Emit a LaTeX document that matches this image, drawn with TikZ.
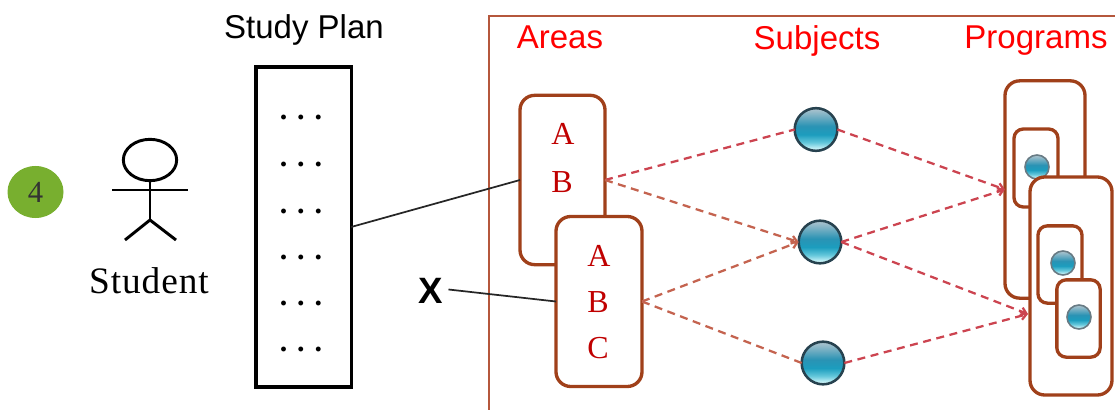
\documentclass[tikz,border=0pt]{standalone}
\usepackage{fontspec}
\setmainfont{Liberation Serif}
\newfontfamily\arialf{Liberation Sans}
\usetikzlibrary{arrows.meta,shapes.geometric}
\definecolor{brownb}{HTML}{A0401A}
\definecolor{framec}{HTML}{B5573C}
\definecolor{dashr}{HTML}{CC4450}
\definecolor{dashb}{HTML}{C4634F}
\definecolor{areat}{HTML}{C00000}
\definecolor{greenb}{HTML}{78AF2F}
\definecolor{ballline}{HTML}{27424F}
\definecolor{ballA}{HTML}{D0F6FA}
\definecolor{ballE}{HTML}{62C6DA}
\definecolor{ballB}{HTML}{1C9DBE}
\definecolor{ballC}{HTML}{2A93B4}
\definecolor{ballD}{HTML}{A4C0CC}
\pgfdeclareverticalshading{ballshade}{100bp}{color(0bp)=(ballA); color(27bp)=(ballA); color(35bp)=(ballE); color(44bp)=(ballB); color(54bp)=(ballC); color(73bp)=(ballD); color(100bp)=(ballD)}
\tikzset{
  box/.style={draw=brownb,line width=2.5pt,fill=white,rounded corners=#1,outer sep=0pt,inner sep=0pt},
  box/.default=11pt,
  ball/.style={circle,draw=ballline,line width=1.9pt,shading=ballshade,minimum size=#1,inner sep=0pt,outer sep=0pt},
  sball/.style={circle,draw=ballline!70!white,line width=1.2pt,shading=ballshade,minimum size=#1,inner sep=0pt,outer sep=0pt},
  dr/.style={draw=dashr,line width=1.7pt,dash pattern=on 6pt off 4.2pt},
  db/.style={draw=dashb,line width=1.7pt,dash pattern=on 6pt off 4.2pt},
  tip/.style={-{Straight Barb[length=4pt,width=6pt]}},
  head/.style={font=\arialf\fontsize{24.75pt}{28pt}\selectfont,text=red,anchor=base,inner sep=0pt},
  areaText/.style={font=\fontsize{24pt}{28pt}\selectfont,text=areat,anchor=base,inner sep=0pt},
  dotsText/.style={font=\bfseries\fontsize{22.5pt}{26pt}\selectfont,text=black,anchor=base,inner sep=0pt},
  stick/.style={draw=black,line width=2.2pt},
  thin line/.style={draw=black!85,line width=1.3pt}
}
\begin{document}
\begin{tikzpicture}[x=0.75pt,y=-0.75pt]
\useasboundingbox (0,0) rectangle (1115,410);
% frame
\coordinate (ftr) at (1115,16);
\coordinate (ftl) at (489,16);
\coordinate (fbl) at (489,410);
\draw[draw=framec,line width=1.2pt] (ftr) -- (ftl) -- (fbl);
% left part
\node[ellipse,fill=greenb,minimum width=42pt,minimum height=39pt,inner sep=0pt,font=\fontsize{23pt}{26pt}\selectfont,text=black!80] (num) at (35.5,192) {4};
\node[ellipse,draw=black,line width=2.2pt,minimum width=40pt,minimum height=31pt,inner sep=0pt,outer sep=0pt] (hd) at (150,160) {};
\coordinate (armL) at (112,190);
\coordinate (armR) at (188,190);
\coordinate (hip) at (150,220);
\coordinate (legL) at (125,240);
\coordinate (legR) at (176,240);
\draw[stick] (armL) -- (armR);
\draw[stick] (hd.south) -- (hip);
\draw[stick] (legL) -- (hip) -- (legR);
\node[font=\addfontfeature{LetterSpace=2.5}\fontsize{28pt}{30pt}\selectfont,anchor=base,inner sep=0pt] (stu) at (149,293) {Student};
\node[font=\arialf\fontsize{24.75pt}{28pt}\selectfont,anchor=base,inner sep=0pt] (sp) at (304,39) {Study Plan};
\node[draw=black,line width=2.5pt,fill=white,minimum width=71.5pt,minimum height=240pt,inner sep=0pt,outer sep=0pt] (plan) at (303.5,227) {};
\foreach \i/\yy in {1/120,2/166.5,3/213,4/259,5/305,6/351}
  \node[dotsText] (dots\i) at (301,\yy) {. . .};
\node[font=\arialf\bfseries\fontsize{27.5pt}{30pt}\selectfont,inner sep=0pt] (x) at (431,290.5) {X};
% headings
\node[head] (hA) at (560,49) {Areas};
\node[head] (hS) at (817,50) {Subjects};
\node[head] (hP) at (1036,49) {Programs};
% areas
\node[box,minimum width=63.75pt,minimum height=127pt] (a1) at (562.5,180) {};
\node[areaText] (a1A) at (563,145) {A};
\node[areaText] (a1B) at (562,192) {B};
% subjects
\node[ball=32pt] (s1) at (816,129.5) {};
\node[ball=32pt] (s2) at (820,242) {};
\node[ball=32pt] (s3) at (823,363) {};
\node[box,minimum width=64.5pt,minimum height=127.5pt] (a2) at (599,301.5) {};
\node[areaText] (a2A) at (599,266) {A};
\node[areaText] (a2B) at (598,312) {B};
\node[areaText] (a2C) at (598,358) {C};
% programs
\node[box,minimum width=60pt,minimum height=163pt] (p1) at (1045,189.5) {};
\node[box=7pt,minimum width=33pt,minimum height=58.5pt] (q1) at (1036,168) {};
\node[sball=18pt] (b1) at (1037,167) {};
\node[box,minimum width=61.5pt,minimum height=163.5pt] (p2) at (1071,286) {};
\node[box=7pt,minimum width=33pt,minimum height=58pt] (q2) at (1060,264.5) {};
\node[sball=18pt] (b2) at (1063,263) {};
\node[box=7pt,minimum width=32.5pt,minimum height=58pt] (q3) at (1078.5,318.5) {};
\node[sball=18pt] (b3) at (1079,317) {};
\coordinate (p2in) at (1028,314);
% connectors
\draw[dr] (a1.east) -- (s1.west);
\draw[db,tip] (a1.east) -- (s2.west);
\draw[db,tip] (a2.east) -- (s2.west);
\draw[db] (a2.east) -- (s3.west);
\draw[dr,tip] (s1.east) -- (p1.west);
\draw[dr,tip] (s2.east) -- (p1.west);
\draw[dr,tip] (s2.east) -- (p2in);
\draw[dr,tip] (s3.east) -- (p2in);
\draw[thin line] (plan.east) -- (a1.west);
\draw[thin line] (x.east) ++(5,-1) -- (a2.west);
\end{tikzpicture}
\end{document}
